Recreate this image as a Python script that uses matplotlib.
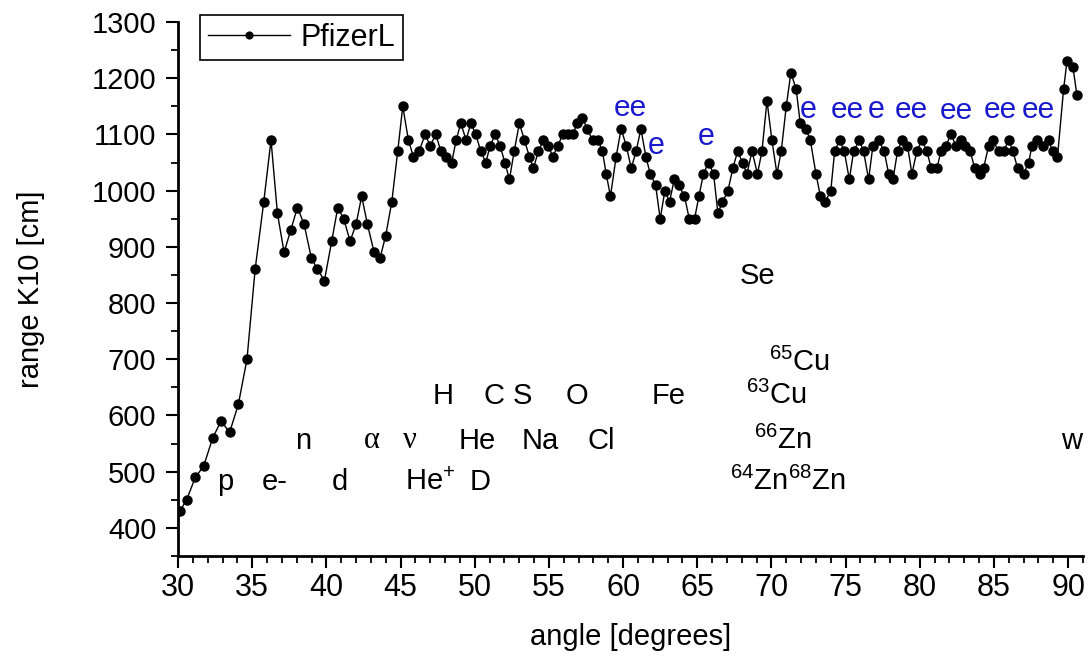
import matplotlib
matplotlib.use('Agg')
import matplotlib.pyplot as plt
from matplotlib.ticker import MultipleLocator

plt.rcParams['font.family'] = ['Liberation Sans', 'DejaVu Sans']
plt.rcParams['mathtext.fontset'] = 'custom'
plt.rcParams['mathtext.rm'] = 'Liberation Sans'
plt.rcParams['mathtext.it'] = 'Liberation Sans:italic'

# data
angle = [30.13, 30.58, 31.17, 31.73, 32.34, 32.9, 33.48, 34.07, 34.65, 35.2,
         35.78, 36.27, 36.7, 37.15, 37.6, 38.05, 38.5, 38.99, 39.4, 39.87,
         40.36, 40.77, 41.17, 41.6, 42.0, 42.38, 42.77, 43.22, 43.62, 44.0,
         44.41, 44.81, 45.15, 45.53, 45.87, 46.25, 46.66, 47.0, 47.38, 47.72,
         48.07, 48.45, 48.75, 49.06, 49.42, 49.74, 50.07, 50.41, 50.75, 51.04,
         51.38, 51.71, 52.03, 52.34, 52.66, 53.01, 53.35, 53.69, 53.96, 54.29,
         54.63, 54.97, 55.26, 55.6, 55.94, 56.28, 56.61, 56.92, 57.26, 57.58,
         57.94, 58.3, 58.61, 58.86, 59.15, 59.53, 59.87, 60.21, 60.55, 60.88,
         61.2, 61.54, 61.83, 62.19, 62.5, 62.82, 63.13, 63.45, 63.74, 64.14,
         64.46, 64.82, 65.11, 65.42, 65.76, 66.1, 66.39, 66.7, 67.07, 67.4,
         67.72, 68.05, 68.35, 68.69, 69.06, 69.36, 69.7, 70.03, 70.37, 70.66,
         71.0, 71.31, 71.67, 71.94, 72.32, 72.62, 73.0, 73.3, 73.63, 74.0,
         74.26, 74.6, 74.91, 75.25, 75.54, 75.92, 76.21, 76.55, 76.84, 77.22,
         77.6, 77.9, 78.19, 78.5, 78.8, 79.17, 79.47, 79.8, 80.15, 80.48,
         80.77, 81.16, 81.42, 81.76, 82.1, 82.44, 82.77, 83.07, 83.4, 83.7,
         84.03, 84.3, 84.64, 84.93, 85.31, 85.65, 85.99, 86.28, 86.59, 87.0,
         87.34, 87.56, 87.9, 88.3, 88.68, 88.95, 89.28, 89.69, 89.92, 90.32,
         90.59]
range_k10 = [430, 450, 490, 510, 560, 590, 570, 620, 700, 860,
             980, 1090, 960, 890, 930, 970, 940, 880, 860, 840,
             910, 970, 950, 910, 940, 990, 940, 890, 880, 920,
             980, 1070, 1150, 1090, 1060, 1070, 1100, 1080, 1100, 1070,
             1060, 1050, 1090, 1120, 1090, 1120, 1100, 1070, 1050, 1080,
             1100, 1080, 1050, 1020, 1070, 1120, 1090, 1060, 1040, 1070,
             1090, 1080, 1060, 1080, 1100, 1100, 1100, 1120, 1130, 1110,
             1090, 1090, 1070, 1030, 990, 1060, 1110, 1080, 1040, 1070,
             1110, 1060, 1030, 1010, 950, 1000, 980, 1020, 1010, 990,
             950, 950, 990, 1030, 1050, 1030, 960, 980, 1000, 1040,
             1070, 1050, 1030, 1070, 1030, 1070, 1160, 1090, 1030, 1070,
             1150, 1210, 1180, 1120, 1110, 1090, 1030, 990, 980, 1000,
             1070, 1090, 1070, 1020, 1070, 1090, 1070, 1020, 1080, 1090,
             1070, 1030, 1020, 1070, 1090, 1080, 1030, 1070, 1090, 1070,
             1040, 1040, 1070, 1080, 1100, 1080, 1090, 1080, 1070, 1040,
             1030, 1040, 1080, 1090, 1070, 1070, 1090, 1070, 1040, 1030,
             1050, 1080, 1090, 1080, 1090, 1070, 1060, 1180, 1230, 1220,
             1170]

# black element labels: (text, x, y)
labels = [('p', 33.17, 482), ('e-', 36.54, 482), ('d', 40.92, 482),
          ('He$^{+}$', 47.0, 482), ('D', 50.36, 482),
          ('n', 38.43, 555), ('He', 50.16, 555), ('Na', 54.4, 555),
          ('Cl', 58.52, 555), ('H', 47.87, 635), ('C', 51.3, 635),
          ('S', 53.2, 635), ('O', 56.9, 635), ('Fe', 63.04, 635),
          ('Se', 69.04, 849),
          ('$^{65}$Cu', 71.9, 694), ('$^{63}$Cu', 70.35, 635),
          ('$^{66}$Zn', 70.75, 555), ('$^{64}$Zn$^{68}$Zn', 71.1, 482),
          ('w', 90.2, 555)]
greek = [('α', 43.08, 555), ('ν', 45.64, 555)]

# blue "e" marks (single or close pairs)
e_text = ['ee', 'e', 'e', 'e', 'ee', 'e', 'ee', 'ee', 'ee', 'ee']
e_x = [60.48, 62.23, 65.6, 72.48, 75.15, 77.03, 79.43, 82.46, 85.4, 88.0]
e_y = [1147, 1079, 1095, 1143, 1143, 1143, 1143, 1141, 1143, 1143]

fig = plt.figure(figsize=(10.88, 6.59), dpi=100)
ax = fig.add_axes([0.1636, 0.1563, 0.8318, 0.8103])

ax.plot(angle, range_k10, color='black', lw=1.0, marker='o', ms=6.5,
        label='PfizerL')

for txt, x, y in labels:
    ax.text(x, y, txt, fontsize=21, ha='center', va='center')
for txt, x, y in greek:
    ax.text(x, y, txt, fontsize=22, ha='center', va='center',
            family='Liberation Serif')
for txt, x, y in zip(e_text, e_x, e_y):
    size = 22 if txt == 'e' else 21.5
    ax.text(x, y, txt, fontsize=size, ha='center', va='center',
            color='#1a1acc')

ax.set_xlim(30, 91)
ax.set_ylim(350, 1300)
ax.xaxis.set_major_locator(MultipleLocator(5))
ax.xaxis.set_minor_locator(MultipleLocator(1))
ax.yaxis.set_major_locator(MultipleLocator(100))
ax.yaxis.set_minor_locator(MultipleLocator(50))
ax.set_yticks(range(400, 1301, 100))
ax.tick_params(which='major', direction='out', length=8.5, width=1.5,
               labelsize=21)
ax.tick_params(axis='y', which='major', pad=7)
ax.tick_params(axis='x', which='major', pad=4, labelsize=22)
ax.tick_params(which='minor', direction='out', length=5, width=1.3)
for s in ['top', 'right']:
    ax.spines[s].set_visible(False)
for s in ['left', 'bottom']:
    ax.spines[s].set_linewidth(2)

ax.set_xlabel('angle [degrees]', fontsize=21, labelpad=14)
ax.set_ylabel('range K10 [cm]', fontsize=21, labelpad=34)

leg = ax.legend(loc='upper left', bbox_to_anchor=(200 / 1088, 1 - 15 / 659),
                bbox_transform=fig.transFigure,
                fontsize=22, handlelength=2.7, handletextpad=0.35,
                borderpad=0.25, markerscale=0.75,
                fancybox=False, edgecolor='black', framealpha=1,
                borderaxespad=0)
leg.get_frame().set_linewidth(1.2)

fig.savefig('out.png', dpi=100)
